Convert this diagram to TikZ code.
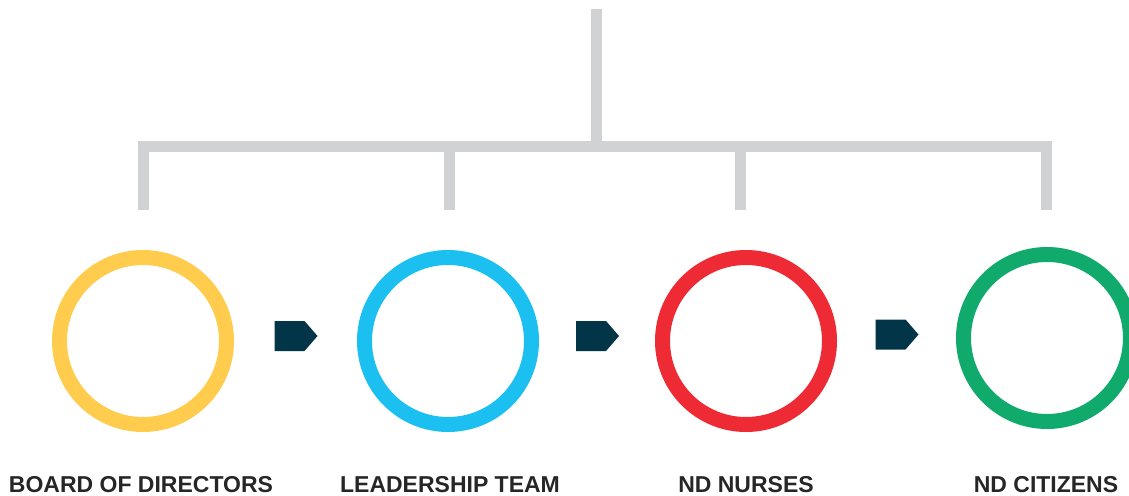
\documentclass[tikz,border=0pt]{standalone}
\usepackage{fontspec}
\setmainfont{Liberation Sans}
\usetikzlibrary{calc}

\definecolor{treegray}{HTML}{D1D2D4}
\definecolor{ringyellow}{HTML}{FFCC4E}
\definecolor{ringblue}{HTML}{1BC0F0}
\definecolor{ringred}{HTML}{EE2A35}
\definecolor{ringgreen}{HTML}{10AA6C}
\definecolor{stepnavy}{HTML}{033549}

\tikzset{
  ring/.style={circle, draw=#1, line width=15pt, minimum size=167pt, inner sep=0pt},
  branch/.style={draw=treegray, line width=11pt, line join=miter},
  caption/.style={font=\bfseries\fontsize{23}{26}\selectfont, text=black!85, anchor=base},
}

\begin{document}
\begin{tikzpicture}[x=1pt,y=-1pt]
    \useasboundingbox (0,0) rectangle (1129,495);

    % tree
    \coordinate (top) at (596,9);
    \coordinate (hub) at (596,146);
    \coordinate (d1) at (143,210);
    \coordinate (d2) at (449,210);
    \coordinate (d3) at (740,210);
    \coordinate (d4) at (1046,210);
    \draw[branch] (top) -- (hub);
    \draw[branch] (d1) |- (hub) -| (d4);
    \draw[branch] (d2) -- (d2 |- hub);
    \draw[branch] (d3) -- (d3 |- hub);

    % rings
    \node[ring=ringyellow] (board) at (143,341) {};
    \node[ring=ringblue] (lead) at (448,341) {};
    \node[ring=ringred] (nurses) at (746,341) {};
    \node[ring=ringgreen] (citizens) at (1047,338) {};

    % steps
    \foreach \a/\b in {board/lead, lead/nurses, nurses/citizens}
      \fill[stepnavy] ($(\a)!0.5!(\b)+(-21,-20)$) -- ++(30,0) -- ++(13,15)
        -- ++(-13,15) -- ++(-30,0) -- cycle;

    % labels
    \node[caption] (tboard) at (141,492) {BOARD OF DIRECTORS};
    \node[caption] (tlead) at (450,492) {LEADERSHIP TEAM};
    \node[caption] (tnurses) at (746,492) {ND NURSES};
    \node[caption] (tcitizens) at (1046,492) {ND CITIZENS};
\end{tikzpicture}
\end{document}
